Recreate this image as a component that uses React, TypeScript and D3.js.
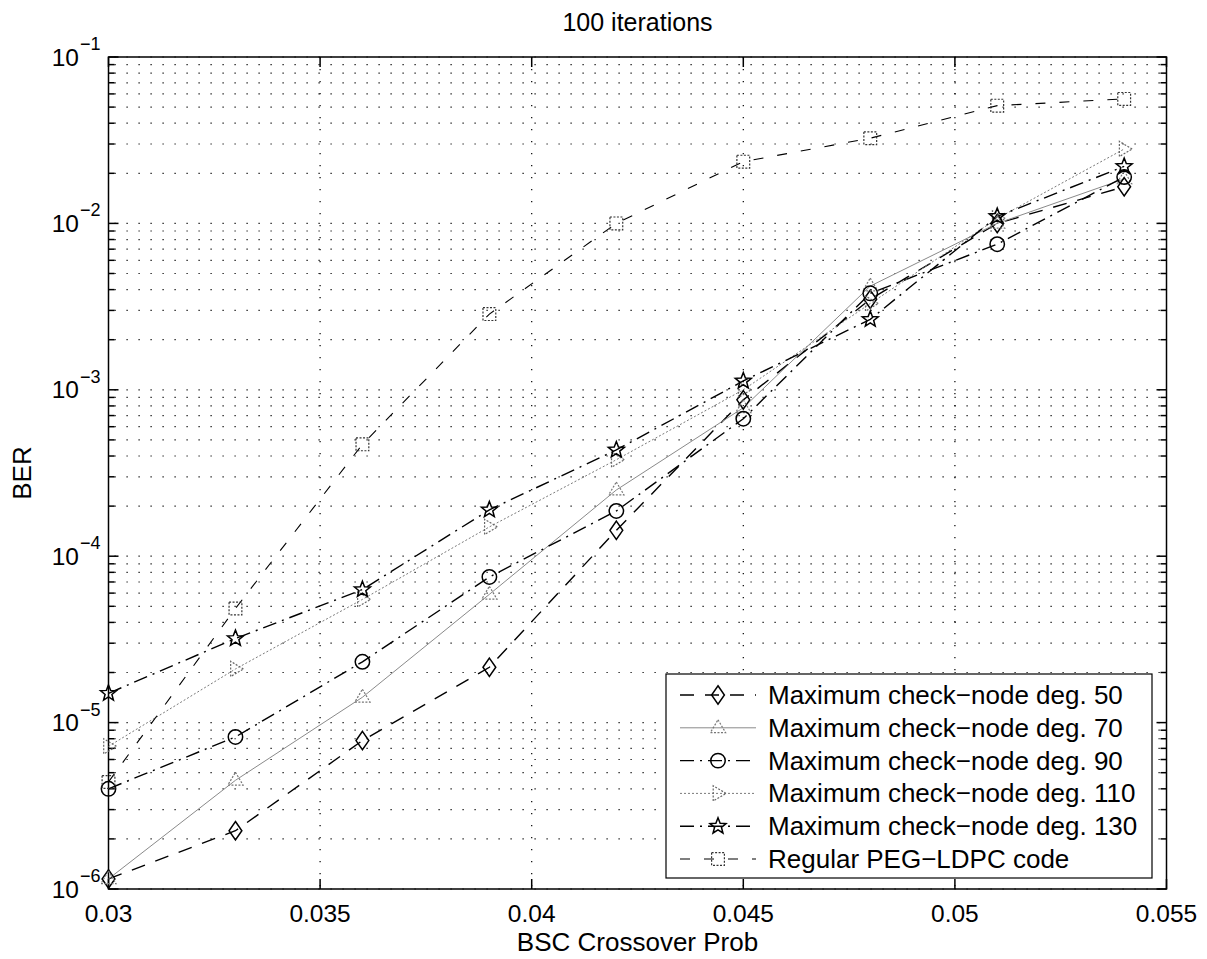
import React from "react";
import * as d3 from "d3";

const xVals = [0.03, 0.033, 0.036, 0.039, 0.042, 0.045, 0.048, 0.051, 0.054];
const deg50 = [1.15e-6, 2.24e-6, 7.8e-6, 2.15e-5, 1.43e-4, 8.7e-4, 3.5e-3, 1.0e-2, 1.66e-2];
const deg70 = [1.15e-6, 4.5e-6, 1.42e-5, 5.9e-5, 2.5e-4, 7.8e-4, 4.2e-3, 1.0e-2, 1.85e-2];
const deg90 = [4.0e-6, 8.2e-6, 2.32e-5, 7.5e-5, 1.87e-4, 6.7e-4, 3.8e-3, 7.5e-3, 1.9e-2];
const deg110 = [7.2e-6, 2.1e-5, 5.5e-5, 1.5e-4, 3.8e-4, 1.0e-3, 3.3e-3, 1.07e-2, 2.8e-2];
const deg130 = [1.5e-5, 3.2e-5, 6.3e-5, 1.9e-4, 4.35e-4, 1.13e-3, 2.65e-3, 1.1e-2, 2.2e-2];
const pegVals = [4.4e-6, 4.85e-5, 4.7e-4, 2.85e-3, 1.0e-2, 2.35e-2, 3.25e-2, 5.1e-2, 5.6e-2];

const xTicks = [0.03, 0.035, 0.04, 0.045, 0.05, 0.055];
const xTickLabels = ["0.03", "0.035", "0.04", "0.045", "0.05", "0.055"];
const yExponents = [-1, -2, -3, -4, -5, -6];

const seriesNames = [
  "Maximum check\u2212node deg. 50",
  "Maximum check\u2212node deg. 70",
  "Maximum check\u2212node deg. 90",
  "Maximum check\u2212node deg. 110",
  "Maximum check\u2212node deg. 130",
  "Regular PEG\u2212LDPC code",
];

type Style = {
  stroke: string;
  width: number;
  dash: string;
  marker: string;
  mStroke: string;
  mDash: string;
};

const styles: Style[] = [
  { stroke: "#000", width: 1.4, dash: "14,11", marker: "diamond", mStroke: "#000", mDash: "" },
  { stroke: "#8a8a8a", width: 1, dash: "", marker: "triUp", mStroke: "#777", mDash: "2,1.5" },
  { stroke: "#000", width: 1.4, dash: "14,6,2,6", marker: "circle", mStroke: "#000", mDash: "" },
  { stroke: "#7a7a7a", width: 1, dash: "2,2", marker: "triRight", mStroke: "#666", mDash: "2,1.5" },
  { stroke: "#000", width: 1.4, dash: "14,6,2,6", marker: "star", mStroke: "#000", mDash: "" },
  { stroke: "#000", width: 1.1, dash: "10,14", marker: "square", mStroke: "#333", mDash: "2,1.5" },
];

const allSeries = [deg50, deg70, deg90, deg110, deg130, pegVals];

function markerPath(kind: string, s: number): string {
  if (kind === "diamond") {
    return `M0,${-s * 1.15} L${s * 0.8},0 L0,${s * 1.15} L${-s * 0.8},0 Z`;
  }
  if (kind === "triUp") {
    return `M0,${-s} L${s * 0.95},${s * 0.6} L${-s * 0.95},${s * 0.6} Z`;
  }
  if (kind === "triRight") {
    return `M${s},0 L${-s * 0.6},${-s * 0.95} L${-s * 0.6},${s * 0.95} Z`;
  }
  if (kind === "square") {
    return `M${-s * 0.8},${-s * 0.8} H${s * 0.8} V${s * 0.8} H${-s * 0.8} Z`;
  }
  if (kind === "star") {
    const pts: string[] = [];
    for (let i = 0; i < 10; i++) {
      const r = i % 2 === 0 ? s * 1.05 : s * 0.45;
      const a = (Math.PI / 5) * i - Math.PI / 2;
      pts.push(`${(r * Math.cos(a)).toFixed(2)},${(r * Math.sin(a)).toFixed(2)}`);
    }
    return "M" + pts.join("L") + "Z";
  }
  return "";
}

function Marker({ kind, x, y, st }: { kind: string; x: number; y: number; st: Style }) {
  const s = 8;
  if (kind === "circle") {
    return (
      <circle cx={x} cy={y} r={s * 0.9} fill="none" stroke={st.mStroke} strokeWidth={1.5} />
    );
  }
  return (
    <path
      d={markerPath(kind, s)}
      transform={`translate(${x},${y})`}
      fill="none"
      stroke={st.mStroke}
      strokeWidth={kind === "diamond" || kind === "star" ? 1.5 : 1.2}
      strokeDasharray={st.mDash || undefined}
    />
  );
}

export default function App() {
  const W = 1207;
  const H = 959;
  const left = 108.5;
  const right = 1166.5;
  const top = 57;
  const bottom = 889;
  const font = "'Liberation Sans', Arial, Helvetica, sans-serif";

  const x = d3.scaleLinear().domain([0.03, 0.055]).range([left, right]);
  const y = d3.scaleLog().domain([1e-6, 1e-1]).range([bottom, top]);

  const line = d3
    .line<number>()
    .x((_, i) => x(xVals[i]))
    .y((d) => y(d));

  const minorVals: number[] = [];
  for (let e = -6; e < -1; e++) {
    for (let m = 2; m <= 9; m++) minorVals.push(m * Math.pow(10, e));
  }
  const majorVals = yExponents.map((e) => Math.pow(10, e));

  const legX = 666;
  const legY = 674;
  const legW = 486;
  const legH = 204;
  const rowH = 32.8;

  return (
    <svg
      width={W}
      height={H}
      style={{ position: "absolute", left: 0, top: 0, background: "#fff" }}
      fontFamily={font}
    >
      <rect x={0} y={0} width={W} height={H} fill="#fff" />
      {/* grid */}
      <g stroke="#000" strokeWidth={1.2} strokeDasharray="1.2,10.8">
        {[...minorVals, ...majorVals].map((v, i) => (
          <line key={"hg" + i} x1={left + 6} x2={right} y1={y(v)} y2={y(v)} />
        ))}
        {xTicks.slice(1, -1).map((v, i) => (
          <line key={"vg" + i} x1={x(v)} x2={x(v)} y1={top} y2={bottom} />
        ))}
      </g>
      {/* axes box */}
      <rect x={left} y={top} width={right - left} height={bottom - top} fill="none" stroke="#000" strokeWidth={1.5} />
      {/* ticks */}
      <g stroke="#000" strokeWidth={1.5}>
        {xTicks.map((v, i) => (
          <g key={"xt" + i}>
            <line x1={x(v)} x2={x(v)} y1={bottom} y2={bottom - 10} />
            <line x1={x(v)} x2={x(v)} y1={top} y2={top + 10} />
          </g>
        ))}
        {majorVals.map((v, i) => (
          <g key={"yt" + i}>
            <line x1={left} x2={left + 10} y1={y(v)} y2={y(v)} />
            <line x1={right} x2={right - 10} y1={y(v)} y2={y(v)} />
          </g>
        ))}
        {minorVals.map((v, i) => (
          <g key={"ym" + i}>
            <line x1={left} x2={left + 6} y1={y(v)} y2={y(v)} />
            <line x1={right} x2={right - 6} y1={y(v)} y2={y(v)} />
          </g>
        ))}
      </g>
      {/* tick labels */}
      <g fontSize={24.5} fill="#000">
        {xTicks.map((v, i) => (
          <text key={"xl" + i} x={x(v)} y={922} textAnchor="middle">
            {xTickLabels[i]}
          </text>
        ))}
        {yExponents.map((e, i) => (
          <g key={"yl" + i}>
            <text x={79} y={y(Math.pow(10, e)) + 8.5} textAnchor="end">
              10
            </text>
            <text x={80} y={y(Math.pow(10, e)) - 7} fontSize={18} textAnchor="start">
              {"\u2212" + Math.abs(e)}
            </text>
          </g>
        ))}
      </g>
      {/* series lines */}
      {allSeries.map((vals, si) => (
        <path
          key={"s" + si}
          d={line(vals) || ""}
          fill="none"
          stroke={styles[si].stroke}
          strokeWidth={styles[si].width}
          strokeDasharray={styles[si].dash || undefined}
        />
      ))}
      {/* markers */}
      {allSeries.map((vals, si) => (
        <g key={"m" + si}>
          {vals.map((v, i) => (
            <Marker key={i} kind={styles[si].marker} x={x(xVals[i])} y={y(v)} st={styles[si]} />
          ))}
        </g>
      ))}
      {/* title and labels */}
      <text x={(left + right) / 2} y={31} textAnchor="middle" fontSize={25}>
        100 iterations
      </text>
      <text x={(left + right) / 2} y={951} textAnchor="middle" fontSize={26}>
        BSC Crossover Prob
      </text>
      <text
        transform={`translate(31,${(top + bottom) / 2}) rotate(-90)`}
        textAnchor="middle"
        fontSize={26}
      >
        BER
      </text>
      {/* legend */}
      <rect x={legX} y={legY} width={legW} height={legH} fill="#fff" stroke="#000" strokeWidth={1.2} />
      {seriesNames.map((name, i) => {
        const cy = legY + 21 + i * rowH;
        const st = styles[i];
        return (
          <g key={"lg" + i}>
            <line
              x1={legX + 14}
              x2={legX + 90}
              y1={cy}
              y2={cy}
              stroke={st.stroke}
              strokeWidth={st.width}
              strokeDasharray={st.dash || undefined}
            />
            <Marker kind={st.marker} x={legX + 52} y={cy} st={st} />
            <text x={legX + 102} y={cy + 9} fontSize={26}>
              {name}
            </text>
          </g>
        );
      })}
    </svg>
  );
}
